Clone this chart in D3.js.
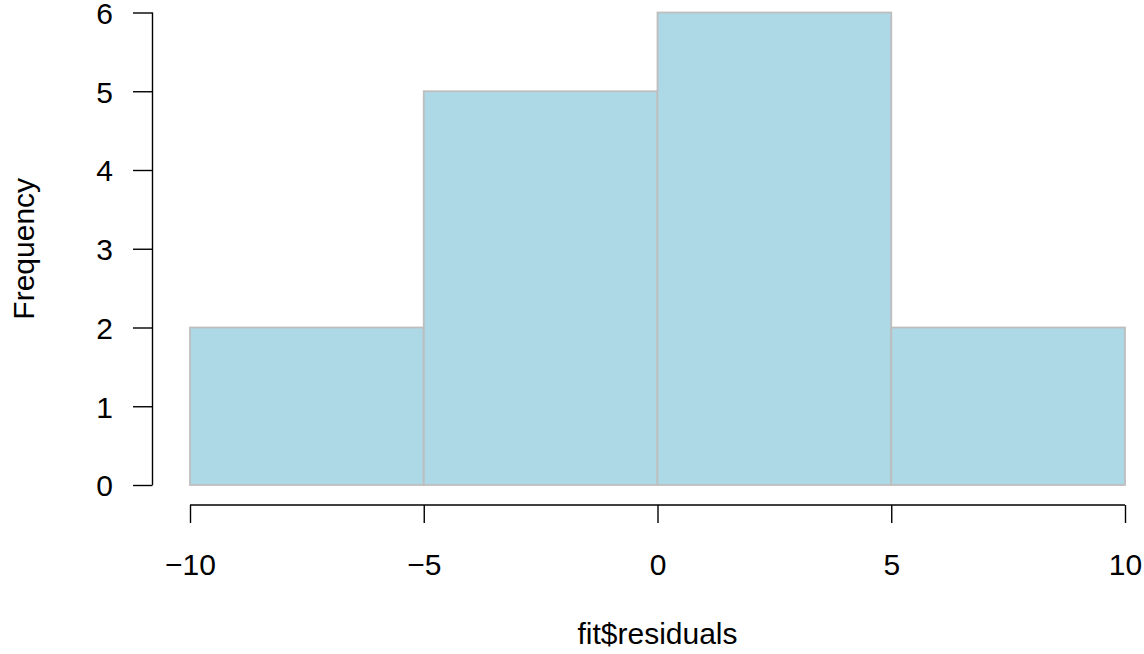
<!DOCTYPE html>
<html>
<head>
<meta charset="utf-8">
<script src="https://cdn.jsdelivr.net/npm/d3@7"></script>
<style>
  body { margin: 0; background: #fff; }
  text { font-family: "Liberation Sans", Arial, sans-serif; }
</style>
</head>
<body>
<div id="chart"></div>
<script>
// histogram bins and counts
var binEdges = [-10, -5, 0, 5, 10];
var counts = [2, 5, 6, 2];
var xTicks = [-10, -5, 0, 5, 10];
var yTicks = [0, 1, 2, 3, 4, 5, 6];

var W = 1144, H = 654;
var fontPx = "30px";

var svg = d3.select("#chart")
    .append("svg")
    .attr("width", W)
    .attr("height", H);

var x = d3.scaleLinear().domain([-10, 10]).range([190, 1125]);
var y = d3.scaleLinear().domain([0, 6]).range([485, 12.5]);

var bins = counts.map(function(c, i) {
    return {x0: binEdges[i], x1: binEdges[i + 1], n: c};
});

// bars
svg.selectAll("rect.bar")
    .data(bins)
    .enter()
    .append("rect")
    .attr("class", "bar")
    .attr("x", function(d) { return x(d.x0); })
    .attr("y", function(d) { return y(d.n); })
    .attr("width", function(d) { return x(d.x1) - x(d.x0); })
    .attr("height", function(d) { return y(0) - y(d.n); })
    .attr("fill", "#ADD8E6")
    .attr("stroke", "#BEBEBE")
    .attr("stroke-width", 1.8);

// x axis (R style: detached below the plot)
var xAxis = svg.append("g")
    .attr("transform", "translate(0,505)")
    .call(d3.axisBottom(x).tickValues(xTicks).tickSize(18).tickSizeOuter(0)
        .tickFormat(function(d) { return d < 0 ? "\u2212" + Math.abs(d) : d; }));
xAxis.select(".domain").attr("stroke", "#000").attr("stroke-width", 1.4)
    .attr("d", "M" + x(-10) + ",0H" + x(10));
xAxis.selectAll(".tick line").attr("stroke", "#000").attr("stroke-width", 1.4);
xAxis.selectAll(".tick text")
    .attr("y", 0)
    .attr("dy", 0)
    .attr("transform", "translate(0,70)")
    .style("font-size", fontPx)
    .attr("fill", "#000");

// y axis
var yAxis = svg.append("g")
    .attr("transform", "translate(152.5,0)")
    .call(d3.axisLeft(y).tickValues(yTicks).tickSize(19.5).tickSizeOuter(0)
        .tickFormat(d3.format("d")));
yAxis.select(".domain").attr("stroke", "#000").attr("stroke-width", 1.4)
    .attr("d", "M0," + y(0) + "V" + y(6));
yAxis.selectAll(".tick line").attr("stroke", "#000").attr("stroke-width", 1.4);
yAxis.selectAll(".tick text")
    .attr("x", -39.5)
    .attr("dy", "0.36em")
    .style("font-size", fontPx)
    .attr("fill", "#000");

// axis titles
svg.append("text")
    .attr("x", x(0))
    .attr("y", 644)
    .attr("text-anchor", "middle")
    .style("font-size", fontPx)
    .text("fit$residuals");

svg.append("text")
    .attr("transform", "translate(34," + y(3) + ") rotate(-90)")
    .attr("text-anchor", "middle")
    .style("font-size", fontPx)
    .text("Frequency");
</script>
</body>
</html>
